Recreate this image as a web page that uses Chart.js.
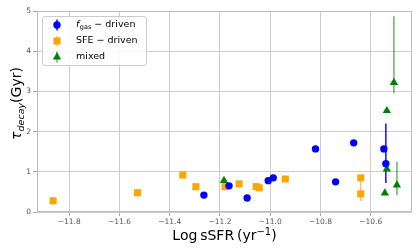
<!DOCTYPE html>
<html>
<head>
<meta charset="utf-8">
<script src="https://cdn.jsdelivr.net/npm/chart.js@4/dist/chart.umd.min.js"></script>
<style>
  html, body { margin: 0; padding: 0; background: #ffffff; }
  #wrap { width: 420px; height: 252px; }
</style>
</head>
<body>
<div id="wrap"><canvas id="c" width="420" height="252"></canvas></div>
<script>
// ---- data ----
const xTicks = [-11.8, -11.6, -11.4, -11.2, -11.0, -10.8, -10.6];
const yTicks = [0, 1, 2, 3, 4, 5];

const fgasX  = [-11.264, -11.164, -11.092, -11.008, -10.988, -10.82, -10.74, -10.668, -10.548, -10.54];
const fgasY  = [0.42, 0.65, 0.35, 0.78, 0.85, 1.57, 0.75, 1.72, 1.57, 1.2];
const fgasLo = [null, null, null, null, null, null, null, null, null, 0.72];
const fgasHi = [null, null, null, null, null, null, null, null, null, 2.2];

const sfeX  = [-11.864, -11.528, -11.348, -11.296, -11.18, -11.124, -11.056, -11.044, -10.94, -10.64, -10.64];
const sfeY  = [0.28, 0.48, 0.92, 0.63, 0.63, 0.70, 0.63, 0.60, 0.82, 0.85, 0.45];
const sfeLo = [null, null, null, null, null, null, null, null, null, null, 0.27];
const sfeHi = [null, null, null, null, null, null, null, null, null, null, 0.85];

const mixX  = [-11.184, -10.544, -10.536, -10.496, -10.508, -10.536];
const mixY  = [0.78, 0.47, 1.07, 0.67, 3.22, 2.52];
const mixLo = [null, null, null, 0.42, 2.95, null];
const mixHi = [null, null, null, 1.25, 4.87, null];

const seriesNames = ['gas', 'SFE \u2212 driven', 'mixed'];

function pts(xs, ys, lo, hi) {
  return xs.map((x, i) => ({ x: x, y: ys[i], lo: lo[i], hi: hi[i] }));
}

const FONT = '"DejaVu Sans", "Liberation Sans", sans-serif';

const errorBars = {
  id: 'errorBars',
  beforeDatasetsDraw(chart) {
    const ctx = chart.ctx;
    const xs = chart.scales.x, ys = chart.scales.y;
    chart.data.datasets.forEach((ds) => {
      ctx.save();
      ctx.strokeStyle = ds.errColor;
      ctx.lineWidth = 1.5;
      ds.data.forEach((p) => {
        if (p.lo == null || p.hi == null) return;
        const px = xs.getPixelForValue(p.x);
        ctx.beginPath();
        ctx.moveTo(px, ys.getPixelForValue(p.lo));
        ctx.lineTo(px, ys.getPixelForValue(p.hi));
        ctx.stroke();
      });
      ctx.restore();
    });
  }
};

const decor = {
  id: 'decor',
  beforeDatasetsDraw(chart) {
    const ctx = chart.ctx, a = chart.chartArea;
    ctx.save();
    ctx.strokeStyle = '#bdbdbd';
    ctx.lineWidth = 1;
    ctx.strokeRect(Math.round(a.left) + 0.5, Math.round(a.top) + 0.5,
                   Math.round(a.right - a.left) - 1, Math.round(a.bottom - a.top) - 1);
    ctx.restore();
  },
  afterDraw(chart) {
    const ctx = chart.ctx, a = chart.chartArea;
    ctx.save();
    // x title: Log sSFR (yr^-1)
    const big = '14px ' + FONT, small = '10px ' + FONT;
    ctx.fillStyle = '#000';
    ctx.textBaseline = 'alphabetic';
    ctx.font = big;
    const p1 = 'Log\u2009sSFR\u2009(yr';
    const w1 = ctx.measureText(p1).width;
    ctx.font = small;
    const sup = '\u22121';
    const w2 = ctx.measureText(sup).width;
    ctx.font = big;
    const w3 = ctx.measureText(')').width;
    let x0 = (a.left + a.right) / 2 - (w1 + w2 + w3) / 2;
    const by = 240;
    ctx.textAlign = 'left';
    ctx.fillText(p1, x0, by);
    ctx.font = small;
    ctx.fillText(sup, x0 + w1, by - 5.5);
    ctx.font = big;
    ctx.fillText(')', x0 + w1 + w2, by);

    // y title: tau_decay (Gyr)
    ctx.save();
    ctx.translate(20.5, (a.top + a.bottom) / 2 - 8);
    ctx.rotate(-Math.PI / 2);
    const tauF = 'italic 14px ' + FONT, subF = 'italic 9.5px ' + FONT;
    ctx.font = tauF; const wt = ctx.measureText('\u03c4').width;
    ctx.font = subF; const ws = ctx.measureText('decay').width;
    ctx.font = big; const wg = ctx.measureText('(Gyr)').width;
    let s = -(wt + ws + wg) / 2;
    ctx.font = tauF; ctx.fillText('\u03c4', s, 0);
    ctx.font = subF; ctx.fillText('decay', s + wt, 3);
    ctx.font = big; ctx.fillText('(Gyr)', s + wt + ws, 0);
    ctx.restore();

    // legend
    const lx = 42, ly = 16, lw = 104, lh = 49;
    ctx.beginPath();
    ctx.roundRect(lx + 0.5, ly + 0.5, lw, lh, 2.5);
    ctx.fillStyle = 'rgba(255,255,255,0.85)';
    ctx.fill();
    ctx.strokeStyle = '#cccccc';
    ctx.lineWidth = 1;
    ctx.stroke();
    const rows = [25, 41, 57];
    const mx = 57, tx = 76;
    chart.data.datasets.forEach((ds, i) => {
      const y = rows[i];
      ctx.strokeStyle = ds.errColor;
      ctx.lineWidth = 1.5;
      ctx.beginPath(); ctx.moveTo(mx, y - 5.5); ctx.lineTo(mx, y + 5.5); ctx.stroke();
      ctx.fillStyle = ds.backgroundColor;
      ctx.beginPath();
      if (ds.pointStyle === 'circle') {
        ctx.arc(mx, y, ds.pointRadius, 0, Math.PI * 2);
      } else if (ds.pointStyle === 'rect') {
        const h = ds.pointRadius * Math.SQRT1_2;
        ctx.rect(mx - h, y - h, 2 * h, 2 * h);
      } else {
        const r = ds.pointRadius;
        ctx.moveTo(mx, y - r);
        ctx.lineTo(mx + r * 0.866, y + r * 0.5);
        ctx.lineTo(mx - r * 0.866, y + r * 0.5);
        ctx.closePath();
      }
      ctx.fill();
      ctx.fillStyle = '#000';
      ctx.textBaseline = 'middle';
      if (i === 0) {
        ctx.font = 'italic 9.5px ' + FONT;
        ctx.fillText('f', tx, y);
        const wf = ctx.measureText('f').width;
        ctx.font = '6.5px ' + FONT;
        ctx.fillText(seriesNames[0], tx + wf + 0.5, y + 2.5);
        const wgas = ctx.measureText(seriesNames[0]).width;
        ctx.font = '9.5px ' + FONT;
        ctx.fillText(' \u2212 driven', tx + wf + 0.5 + wgas, y);
      } else {
        ctx.font = '9.5px ' + FONT;
        ctx.fillText(seriesNames[i], tx, y);
      }
    });
    ctx.restore();
  }
};

new Chart(document.getElementById('c'), {
  type: 'scatter',
  data: {
    datasets: [
      { label: 'fgas', data: pts(fgasX, fgasY, fgasLo, fgasHi), pointStyle: 'circle',
        pointRadius: 3.7, backgroundColor: '#0000ff', borderColor: '#0000ff', borderWidth: 0,
        errColor: 'rgba(0,0,255,0.95)' },
      { label: 'SFE', data: pts(sfeX, sfeY, sfeLo, sfeHi), pointStyle: 'rect',
        pointRadius: 5, backgroundColor: '#ffa500', borderColor: '#ffa500', borderWidth: 0,
        errColor: 'rgba(255,165,0,0.65)' },
      { label: 'mixed', data: pts(mixX, mixY, mixLo, mixHi), pointStyle: 'triangle',
        pointRadius: 4.8, backgroundColor: '#008000', borderColor: '#008000', borderWidth: 0,
        errColor: 'rgba(0,128,0,0.6)' }
    ]
  },
  options: {
    responsive: false,
    animation: false,
    events: [],
    layout: { padding: { top: 11, right: 8, left: 0, bottom: 0 } },
    plugins: { legend: { display: false }, tooltip: { enabled: false } },
    scales: {
      x: {
        type: 'linear', min: -11.928, max: -10.436,
        afterBuildTicks: (s) => { s.ticks = xTicks.map(v => ({ value: v })); },
        afterFit: (s) => { s.height = 40; },
        ticks: {
          font: { family: FONT, size: 7.5 }, color: '#555555', padding: 2, maxRotation: 0,
          autoSkip: false,
          callback: (v) => (v < 0 ? '\u2212' : '') + Math.abs(v).toFixed(1)
        },
        grid: { color: '#cccccc', lineWidth: 1, tickLength: 4, tickColor: '#aaaaaa' },
        border: { display: false }
      },
      y: {
        type: 'linear', min: 0, max: 5,
        afterBuildTicks: (s) => { s.ticks = yTicks.map(v => ({ value: v })); },
        afterFit: (s) => { s.width = 37; },
        ticks: {
          font: { family: FONT, size: 7.5 }, color: '#555555', padding: 2,
          callback: (v) => String(v)
        },
        grid: { color: '#cccccc', lineWidth: 1, tickLength: 4, tickColor: '#aaaaaa' },
        border: { display: false }
      }
    }
  },
  plugins: [decor, errorBars]
});
</script>
</body>
</html>
